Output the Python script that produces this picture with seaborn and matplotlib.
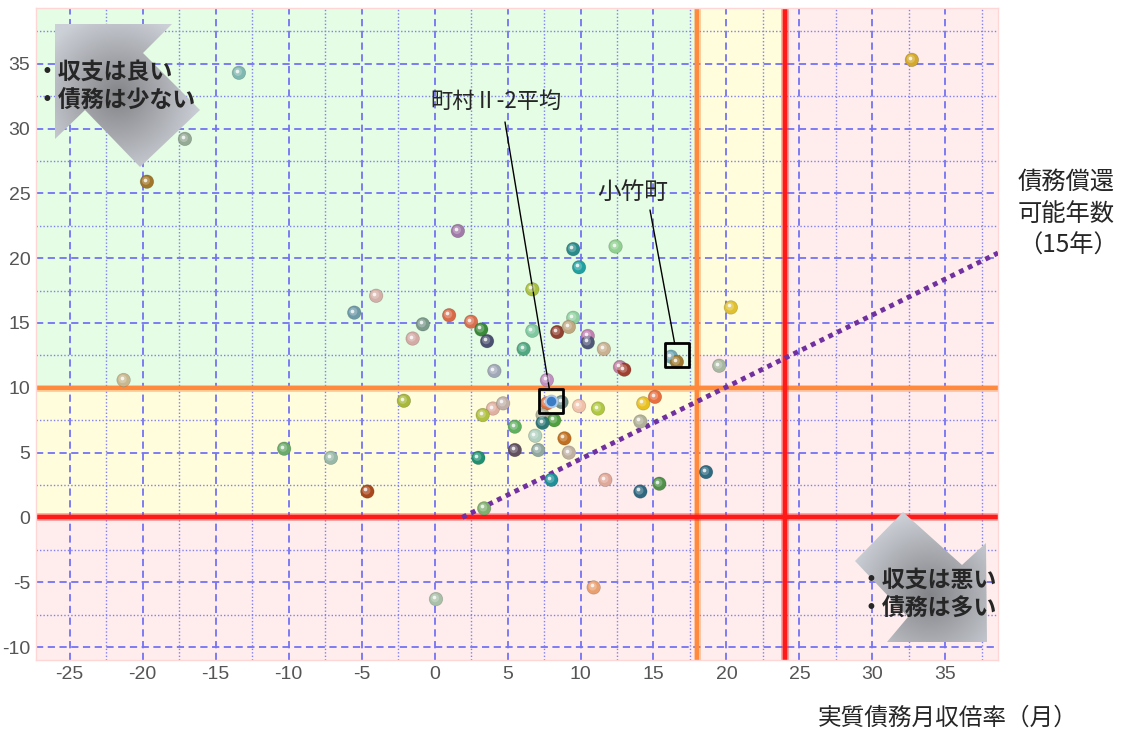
import numpy as np
import pandas as pd
import matplotlib
matplotlib.use("Agg")
import matplotlib.pyplot as plt
import matplotlib.transforms as mtransforms
from matplotlib.ticker import MultipleLocator
from matplotlib.patches import Polygon, Rectangle
from matplotlib.markers import MarkerStyle
from matplotlib.colors import LinearSegmentedColormap, to_rgb
import seaborn as sns

# 実質債務月収倍率（月）
town_x = [-13.4, -17.1, -19.7, 32.7, 1.6, -4.0, -5.5, -0.8, -1.5, -21.3,
          -2.1, -10.3, -7.1, -4.6, 0.1, 10.9, 20.3, 19.5, 18.6, 6.7,
          1.0, 2.5, 9.5, 3.2, 6.7, 8.4, 9.2, 10.5, 3.6, 10.5,
          6.1, 11.6, 4.1, 12.7, 13.0, 16.2, 16.6, 7.7, 7.7, 8.7,
          4.0, 4.7, 3.3, 9.9, 11.2, 14.3, 15.1, 7.4, 8.2, 7.4,
          5.5, 14.1, 6.9, 8.9, 5.5, 7.1, 9.2, 3.0, 8.0, 11.7,
          14.1, 15.4, 3.4, 9.5, 9.9, 12.4]
# 収支
town_y = [34.3, 29.2, 25.9, 35.3, 22.1, 17.1, 15.8, 14.9, 13.8, 10.6,
          9.0, 5.3, 4.6, 2.0, -6.3, -5.4, 16.2, 11.7, 3.5, 17.6,
          15.6, 15.1, 15.4, 14.5, 14.4, 14.3, 14.7, 14.0, 13.6, 13.5,
          13.0, 13.0, 11.3, 11.6, 11.4, 12.4, 12.0, 10.6, 8.8, 8.9,
          8.4, 8.8, 7.9, 8.6, 8.4, 8.8, 9.3, 7.9, 7.5, 7.3,
          7.0, 7.4, 6.3, 6.1, 5.2, 5.2, 5.0, 4.6, 2.9, 2.9,
          2.0, 2.6, 0.7, 20.7, 19.3, 20.9]
town_colors = ['#7fb8b0', '#94aa94', '#a0762a', '#d4a82a', '#a07aa8', '#d4b0a8', '#6e9aa8', '#7a9a8a', '#d4aaa4', '#c8b890',
               '#a8b83a', '#6aaa6a', '#98b8a8', '#a8481e', '#a8c0a8', '#e8a070', '#e0c030', '#a8b8a0', '#2e6a80', '#a8c040',
               '#d86a48', '#d87050', '#90d0a0', '#3a8a3a', '#80c8a0', '#904030', '#c0a880', '#c080b0', '#4a5070', '#505878',
               '#50a880', '#c8b090', '#a0a8b8', '#c080a0', '#a04030', '#70a8b8', '#a07830', '#c090c0', '#e07040', '#70908a',
               '#e0b0a0', '#c0b0a8', '#b0c040', '#f0c0a8', '#b0c840', '#e8c020', '#e87040', '#b0b098', '#50a040', '#307878',
               '#60b060', '#b0b098', '#b0d0c0', '#c07020', '#605060', '#90a8a0', '#c0b0a0', '#209070', '#209098', '#e0a898',
               '#306880', '#50904a', '#80b070', '#2a8a8a', '#20a0a0', '#90d090']

avg_x, avg_y = 8.0, 9.0        # 町村Ⅱ-2平均
kotake_x, kotake_y = 16.6, 12.5  # 小竹町

x_ticks = [-25, -20, -15, -10, -5, 0, 5, 10, 15, 20, 25, 30, 35]
y_ticks = [-10, -5, 0, 5, 10, 15, 20, 25, 30, 35]

# 判定ライン
ratio_warn = 18
ratio_limit = 24
balance_good = 10
balance_zero = 0
yellow_cut = 12.5

# 債務償還可能年数（15年）
diag_x = [1.9, 38.6]
diag_y = [0.0, 20.4]

sns.set_theme(style="white")
plt.rcParams['font.family'] = ['Liberation Sans', 'Noto Sans CJK JP', 'DejaVu Sans']
plt.rcParams['axes.unicode_minus'] = False
jp = ['Noto Sans CJK JP', 'DejaVu Sans']

fig = plt.figure(figsize=(11.36, 7.33), dpi=100)
ax = fig.add_axes([36 / 1136, 1 - 660 / 733, 962 / 1136, 652 / 733])
xmin, xmax, ymin, ymax = -27.3, 38.6, -11.0, 39.3
ax.set_xlim(xmin, xmax)
ax.set_ylim(ymin, ymax)
ax.set_facecolor('#ffeded')
for sp in ax.spines.values():
    sp.set_color('#ffd6d6')
    sp.set_linewidth(1)

# 背景の色分け
green = '#e5fce5'
yellow = '#fffddc'
ax.add_patch(Rectangle((xmin, balance_good), ratio_warn - xmin, ymax - balance_good,
                       facecolor=green, lw=0, zorder=0.1))
x_cross = np.interp(balance_good, diag_y, diag_x)
ax.add_patch(Polygon([(xmin, balance_zero), (diag_x[0], diag_y[0]), (x_cross, balance_good),
                      (xmin, balance_good)], closed=True, facecolor=yellow, lw=0, zorder=0.1))
ax.add_patch(Rectangle((ratio_warn, yellow_cut), ratio_limit - ratio_warn, ymax - yellow_cut,
                       facecolor=yellow, lw=0, zorder=0.1))

# グリッド
ax.set_xticks(x_ticks)
ax.set_yticks(y_ticks)
ax.xaxis.set_minor_locator(MultipleLocator(2.5))
ax.yaxis.set_minor_locator(MultipleLocator(2.5))
ax.set_axisbelow(True)
ax.grid(which='major', color='#7373f3', linestyle=(0, (4, 2.5)), lw=1.3)
ax.grid(which='minor', color='#8080f0', linestyle=(0, (1, 1.5)), lw=1.0)
ax.tick_params(which='major', direction='in', length=4, width=1.5, color='#ff3030',
               labelcolor='#555555', labelsize=14, pad=4)
ax.tick_params(which='minor', length=0)

# 判定ライン
ax.axhline(balance_good, color='#ff8a3d', lw=5, alpha=0.4, zorder=2)
ax.axhline(balance_good, color='#ff8a3d', lw=3, zorder=2.1)
ax.axvline(ratio_warn, color='#ff8a3d', lw=5, alpha=0.4, zorder=2)
ax.axvline(ratio_warn, color='#ff8a3d', lw=3, zorder=2.1)
ax.axhline(balance_zero, color='#ff1a1a', lw=5.5, alpha=0.4, zorder=2.2)
ax.axhline(balance_zero, color='#ff1a1a', lw=3.2, zorder=2.3)
ax.axvline(ratio_limit, color='#ff1a1a', lw=5.5, alpha=0.4, zorder=2.2)
ax.axvline(ratio_limit, color='#ff1a1a', lw=3.2, zorder=2.3)

ax.plot(diag_x, diag_y, color='#7030a0', lw=3.5, linestyle=(0, (1, 1)), zorder=2.6)

# 各団体（球のような陰影）
df = pd.DataFrame({'x': town_x, 'y': town_y, 'id': [f"t{i}" for i in range(len(town_x))]})
sns.scatterplot(data=df, x='x', y='y', hue='id', palette=town_colors, s=95,
                linewidth=0.5, edgecolor='#00000030', legend=False, ax=ax, zorder=3)
light = [tuple(0.55 * np.array(to_rgb(c)) + 0.45) for c in town_colors]
mid = mtransforms.offset_copy(ax.transData, fig=fig, x=-1.0, y=1.0, units='dots')
ax.scatter(town_x, town_y, s=35, c=light, alpha=0.55, lw=0, transform=mid, zorder=3.3)
hl = mtransforms.offset_copy(ax.transData, fig=fig, x=-2.0, y=2.0, units='dots')
ax.scatter(town_x, town_y, s=7, color='white', alpha=0.8, lw=0, transform=hl, zorder=3.5)
ax.set_xlabel('')
ax.set_ylabel('')

ax.scatter([avg_x], [avg_y], s=70, color='#3b7dc4', edgecolor='#a9c8ec', lw=1.5, zorder=4)
box = MarkerStyle('s', joinstyle='round')
ax.plot([avg_x], [avg_y], marker=box, ms=17, mfc='none', mec='black', mew=2, zorder=4.5)
ax.plot([kotake_x], [kotake_y], marker=box, ms=17, mfc='none', mec='black', mew=2, zorder=4.5)

ax.annotate('', xy=(avg_x, avg_y), xytext=(505, 733 - 122), textcoords='figure pixels',
            arrowprops=dict(arrowstyle='-', color='black', lw=1, shrinkA=0, shrinkB=8.5))
ax.annotate('', xy=(kotake_x, kotake_y), xytext=(650, 733 - 210), textcoords='figure pixels',
            arrowprops=dict(arrowstyle='-', color='black', lw=1, shrinkA=0, shrinkB=8.5))

# 矢印と説明文
ov = fig.add_axes([0, 0, 1, 1], zorder=10)
ov.patch.set_visible(False)
ov.axis('off')

cmap = LinearSegmentedColormap.from_list('arrow', ['#838488', '#a7a9ae', '#ccd0d7'])


def grad_arrow(verts, center):
    poly = Polygon(verts, closed=True, facecolor='none', edgecolor='none')
    ov.add_patch(poly)
    xs = [v[0] for v in verts]
    ys = [v[1] for v in verts]
    gx, gy = np.meshgrid(np.linspace(min(xs), max(xs), 200), np.linspace(min(ys), max(ys), 200))
    r = np.hypot(gx - center[0], gy - center[1])
    im = ov.imshow(r, extent=(min(xs), max(xs), max(ys), min(ys)), origin='upper',
                   cmap=cmap, vmin=0, vmax=85, zorder=5)
    im.set_clip_path(poly)


grad_arrow([(55, 24), (172, 24), (143, 53), (200, 110), (140, 167), (85, 110), (55, 139)], (118, 95))
grad_arrow([(987, 642), (887, 642), (908, 617), (855, 561), (903, 512), (962, 565), (986, 543)], (930, 595))
ov.set_xlim(0, 1136)
ov.set_ylim(733, 0)
ov.set_aspect('auto')

bold = dict(fontsize=16.5, fontweight='bold', family=jp, va='center', zorder=20)
ov.text(36, 72, '・収支は良い', **bold)
ov.text(36, 101, '・債務は少ない', **bold)
ov.text(860, 580, '・収支は悪い', **bold)
ov.text(860, 609, '・債務は多い', **bold)

ov.text(430, 101, '町村Ⅱ-2平均', fontsize=16, family=jp, va='center', zorder=20)
ov.text(597, 192, '小竹町', fontsize=17, family=jp, va='center', zorder=20)
ov.text(1018, 214, '債務償還\n可能年数\n（15年）', fontsize=17.5, family=jp, va='center',
        linespacing=1.3, zorder=20)
ov.text(818, 718, '実質債務月収倍率（月）', fontsize=17, family=jp, va='center', zorder=20)

fig.savefig('out.png', dpi=100)
